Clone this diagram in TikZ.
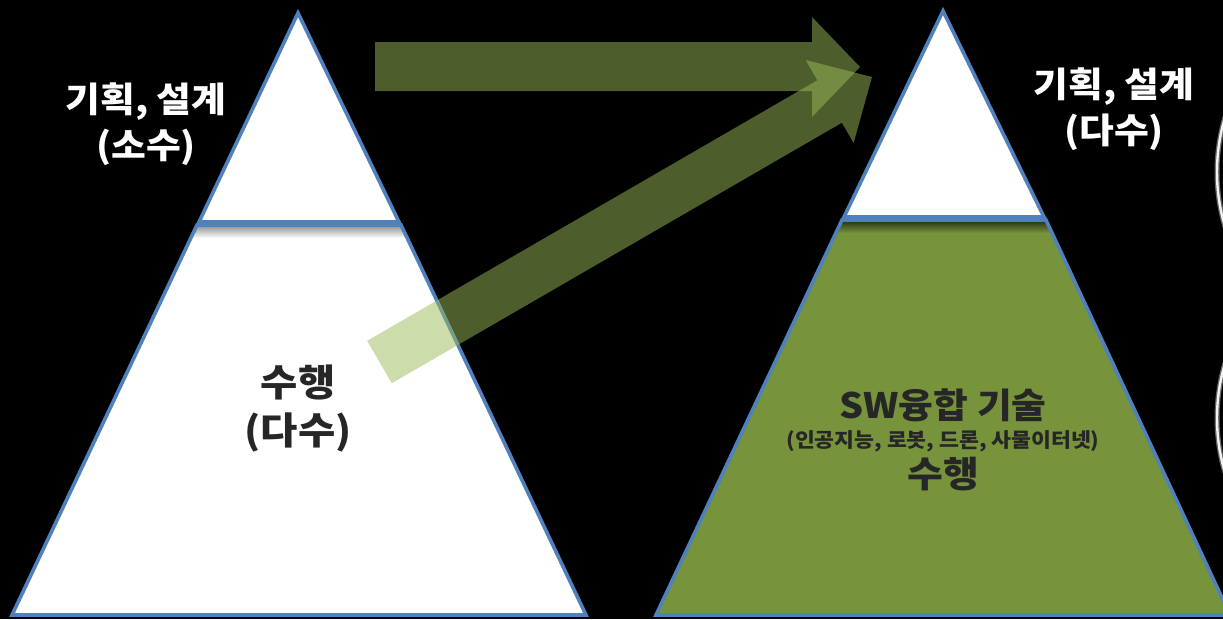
\documentclass[tikz,border=0pt]{standalone}
\usepackage{fontspec}
\setmainfont{Noto Sans CJK KR}[FakeStretch=1.08]
\usetikzlibrary{calc}
\definecolor{tblue}{HTML}{4F81BD}
\definecolor{olive}{HTML}{9BBB59}
\definecolor{gfill}{HTML}{77933C}
\definecolor{dtext}{HTML}{262626}
\tikzset{
  tri/.style={draw=tblue, line width=3.6pt, line join=miter},
  barrow/.style={fill=olive, fill opacity=0.5, draw=none},
  wlabel/.style={text=white, font=\bfseries\fontsize{35}{46}\selectfont, align=center, inner sep=0pt},
  dlabel/.style={text=dtext, font=\bfseries\fontsize{37.5}{48}\selectfont, align=center, inner sep=0pt},
  ring/.style={draw=white!90!gray, line width=2.4pt},
  ringglow/.style={draw=gray!70, line width=5pt, opacity=0.6}
}
\begin{document}
\begin{tikzpicture}[x=1pt,y=-1pt]
\fill[black] (0,0) rectangle (1223,619);
\clip (0,0) rectangle (1223,619);

% ---- left pyramid
\coordinate (LA) at (298,13);
\coordinate (LBL) at (12,615);
\coordinate (LBR) at (586,615);
\fill[white] (197,225) -- (401,225) -- (LBR) -- (LBL) -- cycle;
\begin{scope}
\clip (197,225) -- (401,225) -- (LBR) -- (LBL) -- cycle;
\shade[top color=black!45, bottom color=white] (180,225) rectangle (420,238);
\end{scope}
\draw[tri] (197,225) -- (401,225) -- (LBR) -- (LBL) -- cycle;
\draw[tri,fill=white] (LA) -- (399,222) -- (199,222) -- cycle;

% ---- right pyramid
\coordinate (RA) at (943,11);
\coordinate (RBL) at (656,615);
\coordinate (RBR) at (1230,615);
\fill[gfill] (842,220) -- (1046,220) -- (RBR) -- (RBL) -- cycle;
\begin{scope}
\clip (842,220) -- (1046,220) -- (RBR) -- (RBL) -- cycle;
\shade[top color=black!70!gfill, bottom color=gfill] (820,220) rectangle (1070,233);
\end{scope}
\draw[tri] (842,220) -- (1046,220) -- (RBR) -- (RBL) -- cycle;
\draw[tri,fill=white] (RA) -- (1044,217) -- (844,217) -- cycle;

% ---- block arrows
\fill[barrow] (375,42) -- (812,42) -- (812,17) -- (860,67) -- (812,117) -- (812,91) -- (375,91) -- cycle;
\fill[barrow] (367.2,340.8) -- (817.3,80.3) -- (805.6,60.0) -- (872,77) -- (853.6,143.0) -- (841.9,122.7) -- (391.8,383.2) -- cycle;

% ---- partial rings at right edge
\draw[ringglow] (1407,172) circle (190);
\draw[ring] (1407,172) circle (190);
\draw[ringglow] (1407,418) circle (190);
\draw[ring] (1407,418) circle (190);

% ---- labels
\node[wlabel] (lplan) at (146,124) {기획, 설계\\(소수)};
\node[wlabel] (rplan) at (1114,109) {기획, 설계\\(다수)};
\node[dlabel] (ldo) at (298,409) {수행\\(다수)};
\node[text=dtext, font=\bfseries\fontsize{35}{35}\selectfont, inner sep=0pt] (sw) at (943,405) {SW융합 기술};
\node[text=dtext, font=\bfseries\fontsize{20}{22}\selectfont, inner sep=0pt] (sub) at (943,441) {(인공지능, 로봇, 드론, 사물이터넷)};
\node[text=dtext, font=\bfseries\fontsize{36}{36}\selectfont, inner sep=0pt] (rdo) at (943,474) {수행};
\end{tikzpicture}
\end{document}
